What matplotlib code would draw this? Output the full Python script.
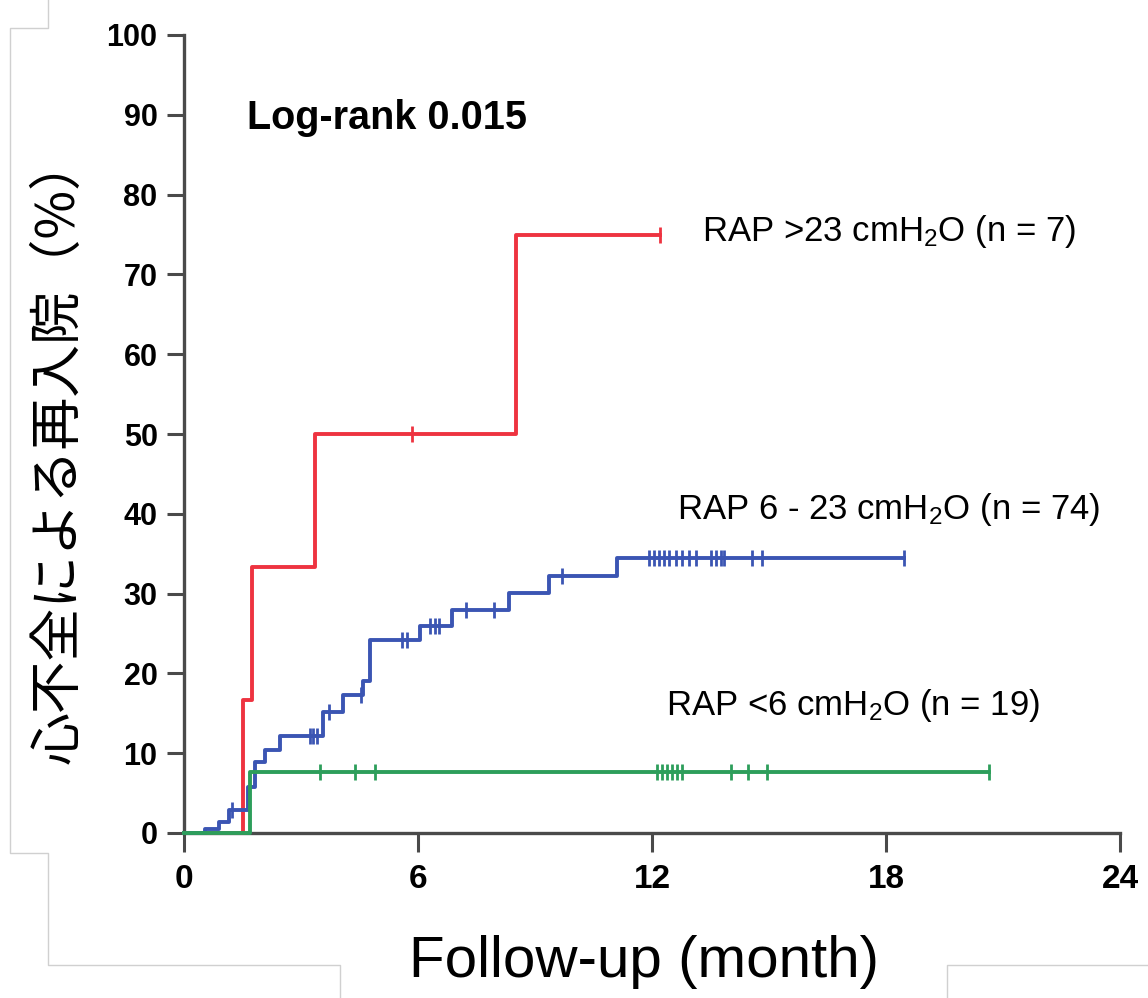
import matplotlib
matplotlib.use("Agg")
import matplotlib.pyplot as plt
from matplotlib.lines import Line2D

# Polices
plt.rcParams['font.family'] = ['Liberation Sans', 'DejaVu Sans']
plt.rcParams['mathtext.fontset'] = 'custom'
plt.rcParams['mathtext.rm'] = 'Liberation Sans'
plt.rcParams['mathtext.it'] = 'Liberation Sans:italic'

# Données (mois, % de réhospitalisation)
red_t = [0, 1.51, 1.74, 3.35, 8.52, 12.2]
red_v = [0, 16.7, 33.3, 50.0, 75.0, 75.0]
red_cens_t = [5.84, 12.2]

blue_t = [0, 0.55, 0.9, 1.15, 1.64, 1.82, 2.07, 2.46, 3.57, 4.08, 4.59, 4.76,
          6.04, 6.86, 8.33, 9.37, 11.1, 18.46]
blue_v = [0, 0.5, 1.4, 2.9, 5.8, 8.9, 10.4, 12.1, 15.2, 17.3, 19.0, 24.2,
          25.9, 28.0, 30.1, 32.2, 34.4, 34.4]
blue_cens_t = [1.22, 3.22, 3.31, 3.41, 3.73, 4.55, 5.58, 5.71, 6.3, 6.43, 6.55,
               7.24, 7.96, 9.7, 11.93, 12.06, 12.19, 12.31, 12.44, 12.62, 12.78,
               12.95, 13.13, 13.52, 13.65, 13.77, 13.85, 14.57, 14.82, 18.46]

green_t = [0, 1.69, 20.63]
green_v = [0, 7.6, 7.6]
green_cens_t = [3.48, 4.38, 4.89, 12.14, 12.26, 12.39, 12.52, 12.65, 12.78,
                14.03, 14.46, 14.95, 20.63]

x_ticks = [0, 6, 12, 18, 24]
y_ticks = [0, 10, 20, 30, 40, 50, 60, 70, 80, 90, 100]

groups = [
    ("RAP >23 cmH$_\\mathrm{2}$O (n = 7)", red_t, red_v, red_cens_t, "#ee3340", (13.29, 74.2)),
    ("RAP 6 - 23 cmH$_\\mathrm{2}$O (n = 74)", blue_t, blue_v, blue_cens_t, "#3b55b3", (12.65, 39.3)),
    ("RAP <6 cmH$_\\mathrm{2}$O (n = 19)", green_t, green_v, green_cens_t, "#2d9e5b", (12.37, 14.8)),
]


def valeur_a(t, ts, vs):
    # valeur de la courbe en escalier au temps t
    v = vs[0]
    for ti, vi in zip(ts, vs):
        if ti <= t:
            v = vi
    return v


W, H = 1148, 998
fig = plt.figure(figsize=(W / 100, H / 100), dpi=100)
ax = fig.add_axes([184 / W, 1 - 833 / H, (1120 - 184) / W, (833 - 35) / H])

for label, ts, vs, cens, color, pos in groups:
    ax.step(ts, vs, where='post', color=color, lw=2.8, zorder=3, clip_on=False)
    cy = [valeur_a(t, ts, vs) for t in cens]
    ax.plot(cens, cy, ls='none', marker='|', ms=11, mew=2.0, color=color, zorder=4)
    ax.text(pos[0], pos[1], label, fontsize=25, va='baseline', ha='left')

ax.text(1.61, 88.2, "Log-rank 0.015", fontsize=28.5, fontweight='bold', va='baseline')

ax.set_xlim(0, 24)
ax.set_ylim(0, 100)
ax.set_xticks(x_ticks)
ax.set_yticks(y_ticks)
ax.spines['top'].set_visible(False)
ax.spines['right'].set_visible(False)
for s in ['left', 'bottom']:
    ax.spines[s].set_linewidth(2.4)
    ax.spines[s].set_color('#4a4a4a')
ax.tick_params(axis='y', length=12, width=2.2, color='#4a4a4a', pad=7, labelsize=22)
ax.tick_params(axis='x', length=14, width=2.2, color='#4a4a4a', pad=8, labelsize=24)
for lab in ax.get_xticklabels() + ax.get_yticklabels():
    lab.set_fontweight('bold')

# Titres des axes
fig.text(644 / W, 1 - 962 / H, "Follow-up (month)", fontsize=42, ha='center', va='center')
fig.text(58 / W, 1 - 450 / H, "心不全による再入院（%）", fontsize=38, rotation=90,
         ha='center', va='center', family=['Noto Sans CJK JP', 'DejaVu Sans'])

# Cadre gris clair (mise en page d'origine)
cadre = [
    [(48, 0), (48, 28), (10, 28), (10, 853), (48, 853), (48, 965), (340, 965), (340, 998)],
    [(947, 998), (947, 965), (1148, 965)],
]
for chemin in cadre:
    xs = [p[0] / W for p in chemin]
    ys = [1 - p[1] / H for p in chemin]
    fig.add_artist(Line2D(xs, ys, transform=fig.transFigure, color='#d0d0d0', lw=1))

plt.savefig("out.png", dpi=100)
